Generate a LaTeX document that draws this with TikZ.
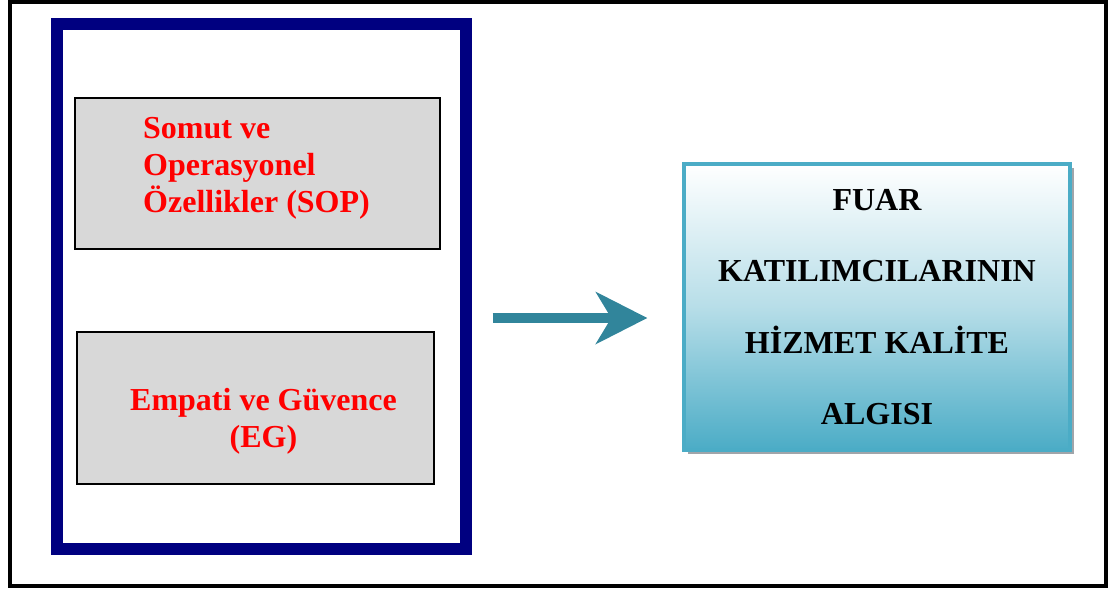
\documentclass[tikz,border=0pt]{standalone}
\usepackage{fontspec}
\setmainfont{Liberation Serif}
\usetikzlibrary{arrows.meta,shadows}
\definecolor{navyc}{RGB}{0,0,128}
\definecolor{redc}{RGB}{255,0,0}
\definecolor{grayc}{RGB}{216,216,216}
\definecolor{arrowc}{RGB}{49,133,155}
\definecolor{tealc}{RGB}{75,172,198}
\definecolor{shadowc}{RGB}{160,165,170}
\tikzset{
  outerframe/.style={draw=black, line width=4pt},
  groupframe/.style={draw=navyc, line width=12pt, inner sep=0pt},
  graybox/.style={draw=black, line width=1.6pt, fill=grayc, inner sep=0pt},
  redtext/.style={text=redc, font=\fontsize{32}{37}\selectfont\bfseries, inner sep=0pt},
  resultbox/.style={draw=tealc, line width=3.5pt, top color=white, bottom color=tealc,
    middle color=tealc!40!white, inner sep=0pt,
    font=\fontsize{32}{37}\selectfont\bfseries, align=center,
    drop shadow={shadow xshift=4pt, shadow yshift=-4pt, fill=shadowc, opacity=1}},
  flowarrow/.style={draw=arrowc, line width=10pt,
    -{Stealth[length=52pt,width=53pt,inset=16pt,line width=0pt]}}
}
\begin{document}
\begin{tikzpicture}[x=1pt,y=-1pt]
\useasboundingbox (0,0) rectangle (1110,590);
\draw[outerframe] (9.5,2) rectangle (1106,585.5);
\node[groupframe, minimum width=408.5pt, minimum height=525.5pt] (frame) at (261.25,286.25) {};
\node[graybox, minimum width=365pt, minimum height=151pt] (sop) at (257.5,173.5) {};
\node[redtext, align=left] (soptext) at (256.5,168) {Somut ve\\Operasyonel\\Özellikler (SOP)};
\node[graybox, minimum width=357pt, minimum height=152pt] (eg) at (255.5,408) {};
\node[redtext, align=center] (egtext) at (263.5,421) {Empati ve Güvence\\(EG)};
\node[resultbox, minimum width=386pt, minimum height=286pt] (fuar) at (877,307)
  {FUAR\\[34.3pt]KATILIMCILARININ\\[34.3pt]HİZMET KALİTE\\[34.3pt]ALGISI};
\coordinate (ay) at (0,318);
\draw[flowarrow, shorten <=21pt, shorten >=35pt] (frame.east |- ay) -- (fuar.west |- ay);
\end{tikzpicture}
\end{document}
